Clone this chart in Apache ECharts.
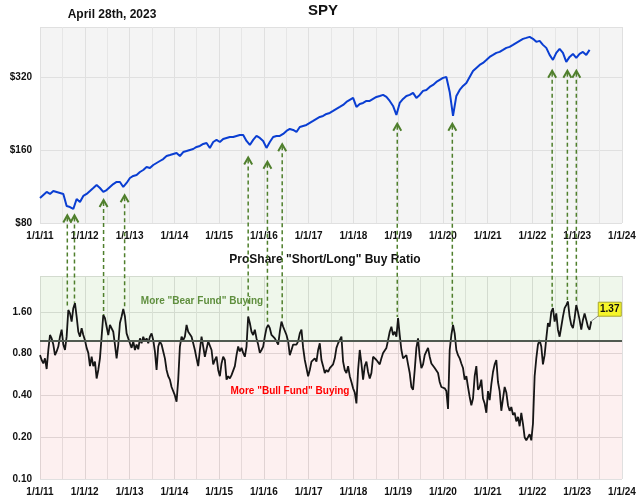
<!DOCTYPE html>
<html>
<head>
<meta charset="utf-8">
<script src="https://cdn.jsdelivr.net/npm/echarts@6/dist/echarts.min.js"></script>
<style>
  html, body { margin: 0; padding: 0; background: #fff; }
  #chart { width: 640px; height: 504px; }
</style>
</head>
<body>
<div id="chart"></div>
<script>
  // sampling: one ratio value roughly every two weeks, SPY every other sample
  const startYear = 2011
  const sampleStep = 0.0372 // years

  const yearLabels = ['1/1/11', '1/1/12', '1/1/13', '1/1/14', '1/1/15', '1/1/16', '1/1/17',
    '1/1/18', '1/1/19', '1/1/20', '1/1/21', '1/1/22', '1/1/23', '1/1/24']
  const spyTicks = ['$80', '$160', '$320'] // doubling steps from $80
  const ratioTicks = ['0.10', '0.20', '0.40', '0.80', '1.60'] // doubling steps from 0.10

  // SPY price (adjusted)
  const spy = [
    101.4, 104.4, 107.4, 105.4, 108.4, 107.4, 106.4, 105.4, 94.0, 93.1,
    91.4, 100.5, 97.7, 103.4, 105.4, 108.4, 111.5, 114.8, 111.5, 107.4,
    109.4, 112.6, 115.8, 118.1, 118.1, 112.6, 117.0, 122.6, 125.0, 126.2,
    129.8, 132.3, 136.1, 134.8, 138.7, 141.4, 144.1, 146.8, 151.1, 152.5,
    154.0, 155.5, 151.1, 156.9, 158.4, 160.0, 161.5, 164.6, 166.2, 169.4,
    171.0, 163.1, 172.6, 176.0, 172.6, 177.6, 179.3, 181.0, 181.0, 182.8,
    184.5, 184.5, 174.3, 167.8, 176.0, 182.8, 179.3, 174.3, 163.1, 172.6,
    181.0, 182.8, 182.8, 186.3, 191.7, 195.3, 193.5, 189.8, 199.1, 201.0,
    202.9, 206.8, 210.7, 214.8, 218.9, 221.0, 225.2, 227.4, 231.7, 236.2,
    240.7, 245.3, 252.4, 257.3, 262.2, 240.7, 247.7, 250.0, 254.8, 254.8,
    259.7, 264.7, 267.2, 269.8, 264.7, 254.8, 243.0, 223.1, 250.0, 259.7,
    267.2, 269.8, 275.0, 262.2, 269.8, 280.3, 282.9, 291.1, 296.7, 305.3,
    311.2, 317.1, 320.0, 277.6, 221.0, 267.2, 282.9, 293.9, 302.4, 320.0,
    338.7, 348.5, 358.6, 365.5, 376.0, 387.0, 394.4, 402.0, 405.8, 413.6,
    421.6, 425.6, 433.8, 442.2, 450.7, 459.3, 463.7, 468.2, 459.3, 446.4,
    450.7, 433.8, 421.6, 394.4, 376.0, 402.0, 417.6, 402.0, 369.0, 387.0,
    398.2, 383.3, 398.2, 405.8, 394.4, 413.6
  ]

  // ProShare short/long buy ratio
  const ratio = [
    0.78, 0.72, 0.68, 0.74, 0.62, 0.85, 1.09, 1.03, 0.93, 0.78,
    0.83, 0.90, 1.06, 1.19, 0.93, 0.85, 1.06, 1.65, 1.56, 1.36,
    1.70, 1.85, 1.48, 1.15, 1.06, 1.22, 1.09, 1.00, 0.88, 0.81,
    0.65, 0.76, 0.65, 0.70, 0.53, 0.61, 0.74, 1.06, 1.52, 1.44,
    1.25, 1.09, 1.29, 1.25, 1.15, 0.93, 0.74, 0.93, 1.33, 1.48,
    1.68, 1.48, 1.12, 1.03, 0.95, 0.88, 0.98, 0.85, 0.93, 0.86,
    1.03, 0.95, 1.06, 0.98, 1.03, 0.95, 1.06, 1.12, 1.00, 0.83,
    0.61, 0.90, 0.98, 0.93, 0.83, 0.74, 0.61, 0.55, 0.52, 0.46,
    0.45, 0.40, 0.36, 0.52, 0.90, 1.06, 1.00,
    1.06, 1.29, 1.15, 1.12, 1.06, 0.95, 0.85, 0.74, 0.65, 0.85,
    1.06, 0.90, 0.76, 0.78, 0.98, 1.00, 0.85, 0.67, 0.72, 0.76,
    0.61, 0.55, 0.68, 0.76, 0.72, 0.52, 0.55, 0.53, 0.56, 0.55,
    0.65, 0.78, 0.90, 0.83, 0.88, 0.81, 0.76, 0.90, 1.48, 1.33,
    1.15, 1.09, 1.19, 1.03, 0.93, 0.81, 0.85, 0.90, 1.06, 1.22,
    1.29, 1.22, 1.09, 1.06, 1.03, 0.98, 0.93, 1.15, 1.36, 1.25,
    1.29, 1.09, 0.98, 0.78, 0.85, 0.93, 0.95, 0.93, 0.98, 1.12,
    1.19, 0.88, 0.72, 0.63, 0.55, 0.61, 0.70, 0.68, 0.74, 0.70,
    0.85, 0.95, 0.72, 0.65, 0.58, 0.61, 0.59, 0.63,
    0.64, 0.67, 0.74, 0.88, 0.95, 0.93, 1.06, 0.70, 0.61, 0.58,
    0.65, 0.55, 0.50, 0.45, 0.42, 0.35, 0.61, 0.85, 0.68, 0.52,
    0.65, 0.70, 0.59, 0.53, 0.58, 0.76, 0.78, 0.72, 0.74, 0.67,
    0.74, 0.81, 0.81, 0.88, 1.00, 1.15, 1.25, 1.09, 1.15, 1.06,
    1.44, 1.09, 0.85, 0.74, 0.74, 0.78, 0.67, 0.58, 0.46, 0.44,
    0.61, 0.88, 1.03, 0.76, 0.63, 0.67, 0.78, 0.83, 0.88, 0.76,
    0.68, 0.70, 0.63, 0.61, 0.58, 0.50, 0.46, 0.47, 0.45, 0.43,
    0.32, 0.85, 1.09, 1.29, 1.12, 0.85, 0.78, 0.74, 0.68, 0.63,
    0.52, 0.55, 0.46, 0.39, 0.34, 0.38, 0.55, 0.65,
    0.44, 0.46, 0.52, 0.38, 0.35, 0.30, 0.43, 0.37, 0.48, 0.59,
    0.67, 0.72, 0.50, 0.43, 0.31, 0.38, 0.46, 0.42, 0.34, 0.31,
    0.33, 0.29, 0.30, 0.26, 0.28, 0.24, 0.30, 0.25, 0.20, 0.19,
    0.20, 0.21, 0.19, 0.25, 0.55, 0.74, 0.93, 1.00, 0.90, 0.67,
    0.78, 1.03, 1.33, 1.25, 1.60, 1.70, 1.36, 1.56, 1.19, 1.06,
    1.25, 1.48, 1.70, 1.79, 1.90, 1.48, 1.29, 1.22, 1.44, 1.79,
    1.60, 1.40, 1.19, 1.40, 1.56, 1.40, 1.25, 1.19, 1.37
  ]

  // green arrows: date, SPY value at the arrow tip, ratio peak at the tail
  const arrowYears = [2011.61, 2011.77, 2012.42, 2012.89, 2015.65, 2016.08, 2016.41, 2018.98, 2020.21, 2022.44, 2022.78, 2022.98]
  const arrowSpy = [86, 86, 99.5, 104, 149, 143, 169, 205, 205, 339, 339, 339]
  const arrowRatio = [1.71, 1.86, 1.52, 1.71, 1.57, 1.29, 1.40, 1.47, 1.29, 1.74, 1.95, 1.86]

  const spyMax = 514
  const ratioMax = 2.9
  const ratioLine = 1.0

  // both panels are log2 scales, drawn as value axes in doubling units
  const spyPos = p => Math.log2(p / 80)
  const ratioPos = r => Math.log2(r / 0.1)

  const font = '"Liberation Sans", Arial, sans-serif'
  const labelStyle = { fontFamily: font, fontWeight: 'bold', fontSize: 10, color: '#111' }

  const spyData = spy.map((p, j) => [startYear + 2 * j * sampleStep, spyPos(p)])
  const ratioData = ratio.map((r, i) => [startYear + i * sampleStep, ratioPos(r)])

  function xAxis(gridIndex) {
    return {
      type: 'value',
      gridIndex: gridIndex,
      min: 2011,
      max: 2024,
      interval: 1,
      axisLine: { show: false },
      axisTick: { show: false },
      axisLabel: Object.assign({ margin: 8, formatter: v => yearLabels[v - 2011] || '' }, labelStyle),
      splitLine: { show: true, lineStyle: { color: '#e0e0e0', width: 1 } },
      minorTick: { show: false, splitNumber: 2 },
      minorSplitLine: { show: true, lineStyle: { color: '#e6e6e6', width: 1 } }
    }
  }

  const chart = echarts.init(document.getElementById('chart'))
  chart.setOption({
    animation: false,
    backgroundColor: '#fff',
    grid: [
      { left: 40, right: 18, top: 27, height: 196, show: true, backgroundColor: '#f4f4f4', borderWidth: 0 },
      { left: 40, right: 18, top: 276, height: 203, show: false }
    ],
    xAxis: [xAxis(0), xAxis(1)],
    yAxis: [{
      type: 'value',
      gridIndex: 0,
      min: 0,
      max: spyPos(spyMax),
      interval: 1,
      axisLine: { show: false },
      axisTick: { show: false },
      axisLabel: Object.assign({ margin: 8, formatter: v => Number.isInteger(v) ? spyTicks[v] : '' }, labelStyle),
      splitLine: { lineStyle: { color: '#e0e0e0' } }
    }, {
      type: 'value',
      gridIndex: 1,
      min: 0,
      max: ratioPos(ratioMax),
      interval: 1,
      axisLine: { show: false },
      axisTick: { show: false },
      axisLabel: Object.assign({ margin: 8, formatter: v => Number.isInteger(v) ? ratioTicks[v] : '' }, labelStyle),
      splitLine: { lineStyle: { color: '#e0e0e0' } }
    }],
    series: [{
      name: 'SPY',
      type: 'line',
      xAxisIndex: 0,
      yAxisIndex: 0,
      data: spyData,
      showSymbol: false,
      silent: true,
      lineStyle: { color: '#0a3ed2', width: 2 }
    }, {
      name: 'Short/Long',
      type: 'line',
      xAxisIndex: 1,
      yAxisIndex: 1,
      data: ratioData,
      showSymbol: false,
      silent: true,
      lineStyle: { color: '#161616', width: 1.8 },
      markArea: {
        silent: true,
        data: [
          [{ yAxis: ratioPos(ratioLine), itemStyle: { color: 'rgba(120,190,90,0.12)' } }, { yAxis: ratioPos(ratioMax) }],
          [{ yAxis: 0, itemStyle: { color: 'rgba(235,90,90,0.09)' } }, { yAxis: ratioPos(ratioLine) }]
        ]
      },
      markLine: {
        silent: true,
        symbol: 'none',
        label: { show: false },
        lineStyle: { color: '#515a51', width: 2, type: 'solid' },
        data: [{ yAxis: ratioPos(ratioLine) }]
      }
    }]
  })

  // annotations that need pixel positions from the axes
  const green = '#4f7f2c'
  const graphics = []
  arrowYears.forEach((yr, k) => {
    const tip = chart.convertToPixel({ gridIndex: 0 }, [yr, spyPos(arrowSpy[k])])
    const tail = chart.convertToPixel({ gridIndex: 1 }, [yr, ratioPos(arrowRatio[k])])
    graphics.push({
      type: 'line', silent: true, z: 20,
      shape: { x1: tip[0], y1: tip[1] + 2, x2: tail[0], y2: tail[1] },
      style: { stroke: green, lineWidth: 1.5, lineDash: [4, 3] }
    })
    graphics.push({
      type: 'polyline', silent: true, z: 20,
      shape: { points: [[tip[0] - 4, tip[1] + 7], [tip[0], tip[1]], [tip[0] + 4, tip[1] + 7]] },
      style: { stroke: green, lineWidth: 2, fill: null }
    })
  })

  const last = chart.convertToPixel({ gridIndex: 1 }, ratioData[ratioData.length - 1])
  graphics.push({
    type: 'line', silent: true, z: 20,
    shape: { x1: last[0], y1: last[1], x2: last[0] + 8, y2: last[1] - 6 },
    style: { stroke: '#8a8a8a', lineWidth: 1 }
  })
  graphics.push({
    type: 'rect', silent: true, z: 21,
    shape: { x: last[0] + 7, y: last[1] - 19, width: 23, height: 14 },
    style: { fill: '#f6f62a', stroke: '#a8a830', lineWidth: 1 }
  })
  graphics.push({
    type: 'text', silent: true, z: 22,
    x: last[0] + 18.5, y: last[1] - 12,
    style: { text: ratio[ratio.length - 1].toFixed(2), font: 'bold 10px ' + font, fill: '#111', align: 'center', verticalAlign: 'middle' }
  })

  const texts = [
    { text: 'April 28th, 2023', x: 112, y: 15, size: 12, color: '#111' },
    { text: 'SPY', x: 323, y: 11, size: 15, color: '#111' },
    { text: 'ProShare "Short/Long" Buy Ratio', x: 325, y: 260, size: 12, color: '#111' },
    { text: 'More "Bear Fund" Buying', x: 202, y: 301, size: 10, color: '#5f8f3e' },
    { text: 'More "Bull Fund" Buying', x: 290, y: 391, size: 10, color: '#ff0000' }
  ]
  texts.forEach(t => {
    graphics.push({
      type: 'text', silent: true, z: 15,
      x: t.x, y: t.y,
      style: { text: t.text, font: 'bold ' + t.size + 'px ' + font, fill: t.color, align: 'center', verticalAlign: 'middle' }
    })
  })

  chart.setOption({ graphic: graphics })
</script>
</body>
</html>
